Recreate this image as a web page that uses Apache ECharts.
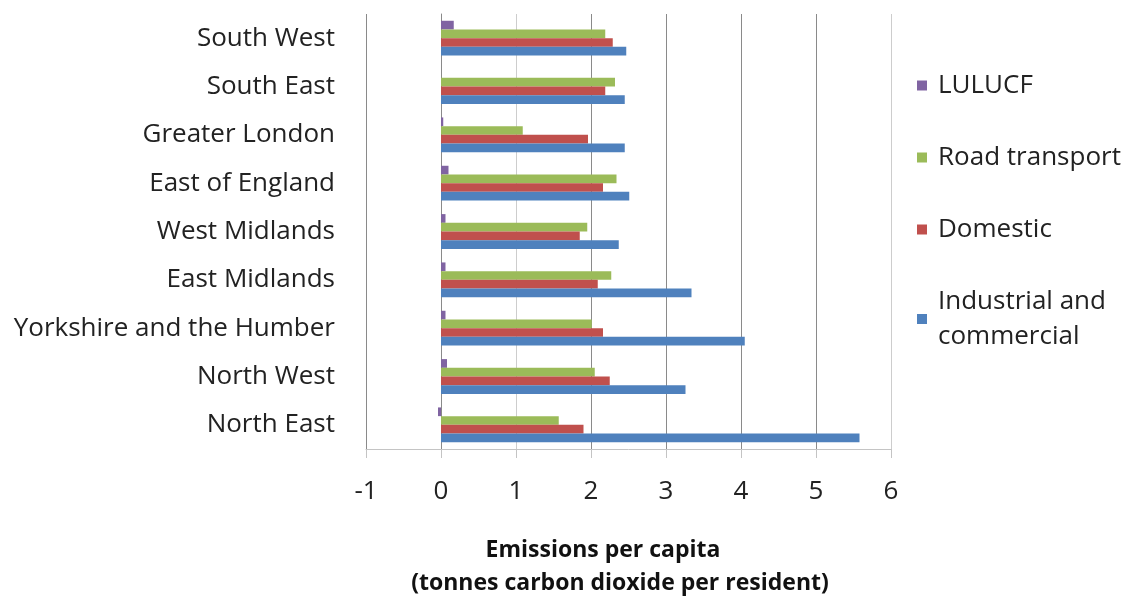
<!DOCTYPE html>
<html>
<head>
<meta charset="utf-8">
<script src="https://cdn.jsdelivr.net/npm/echarts@6/dist/echarts.min.js"></script>
<style>
  html, body { margin: 0; padding: 0; background: #fff; }
  #chart { width: 1128px; height: 597px; }
</style>
</head>
<body>
<div id="chart"></div>
<script>
// Regions, listed bottom to top on the category axis
const regions = [
  'North East', 'North West', 'Yorkshire and the Humber', 'East Midlands',
  'West Midlands', 'East of England', 'Greater London', 'South East', 'South West'
];

// Emissions per capita by sector (tonnes CO2 per resident)
const lulucf     = [-0.04, 0.08, 0.06, 0.06, 0.06, 0.10, 0.03, 0.00, 0.17];
const road       = [1.57, 2.05, 2.01, 2.27, 1.95, 2.34, 1.09, 2.32, 2.19];
const domestic   = [1.90, 2.25, 2.16, 2.09, 1.85, 2.16, 1.96, 2.19, 2.29];
const industrial = [5.58, 3.26, 4.05, 3.34, 2.37, 2.51, 2.45, 2.45, 2.47];

const xTicks = [-1, 0, 1, 2, 3, 4, 5, 6];

const FONT = '"Open Sans"';
const SIZE = 26;

const chart = echarts.init(document.getElementById('chart'), null, { renderer: 'canvas' });

function barSeries(name, data, color) {
  return {
    name: name,
    type: 'bar',
    data: data,
    barGap: '0%',
    barCategoryGap: '28%',
    itemStyle: { color: color },
    emphasis: { disabled: true }
  };
}

chart.setOption({
  animation: false,
  grid: { left: 366, right: 237, top: 14, bottom: 148, containLabel: false },
  legend: {
    orient: 'vertical',
    left: 912,
    top: 63,
    itemWidth: 10,
    itemHeight: 10,
    itemGap: 37,
    icon: 'rect',
    selectedMode: false,
    data: ['LULUCF', 'Road transport', 'Domestic', 'Industrial and commercial'],
    formatter: function (n) {
      return n === 'Industrial and commercial' ? 'Industrial and\ncommercial' : n;
    },
    textStyle: {
      fontFamily: FONT, fontSize: SIZE, color: '#222',
      lineHeight: 35, padding: [0, 0, 0, 6]
    }
  },
  xAxis: {
    type: 'value',
    min: xTicks[0],
    max: xTicks[xTicks.length - 1],
    interval: 1,
    axisLine: { show: true, lineStyle: { color: '#c4c4c4', width: 1 } },
    axisTick: { show: true, length: 9, lineStyle: { color: '#c4c4c4' } },
    axisLabel: {
      margin: 30,
      fontFamily: FONT, fontSize: SIZE, color: '#222',
      formatter: function (v) { return xTicks.indexOf(v) >= 0 ? String(v) : ''; }
    },
    splitLine: {
      show: true,
      lineStyle: {
        color: ['#8a8a8a', '#8a8a8a', '#cdcdcd', '#8a8a8a', '#8a8a8a', '#8a8a8a', '#8a8a8a', '#cdcdcd'],
        width: 1
      }
    }
  },
  yAxis: {
    type: 'category',
    data: regions,
    axisLine: { show: true, lineStyle: { color: '#8a8a8a', width: 1 } },
    axisTick: { show: false },
    axisLabel: {
      margin: 31,
      padding: [4, 0, 0, 0],
      fontFamily: FONT, fontSize: SIZE, color: '#222'
    },
    splitLine: { show: false }
  },
  graphic: [
    {
      type: 'text', x: 603, y: 550,
      style: {
        text: 'Emissions per capita', textAlign: 'center', textVerticalAlign: 'middle',
        font: 'bold 23px ' + FONT, fill: '#111'
      }
    },
    {
      type: 'text', x: 620, y: 583,
      style: {
        text: '(tonnes carbon dioxide per resident)', textAlign: 'center', textVerticalAlign: 'middle',
        font: 'bold 23px ' + FONT, fill: '#111'
      }
    }
  ],
  series: [
    barSeries('LULUCF', lulucf, '#8064A2'),
    barSeries('Road transport', road, '#9BBB59'),
    barSeries('Domestic', domestic, '#C0504D'),
    barSeries('Industrial and commercial', industrial, '#4F81BD')
  ]
});
</script>
</body>
</html>
